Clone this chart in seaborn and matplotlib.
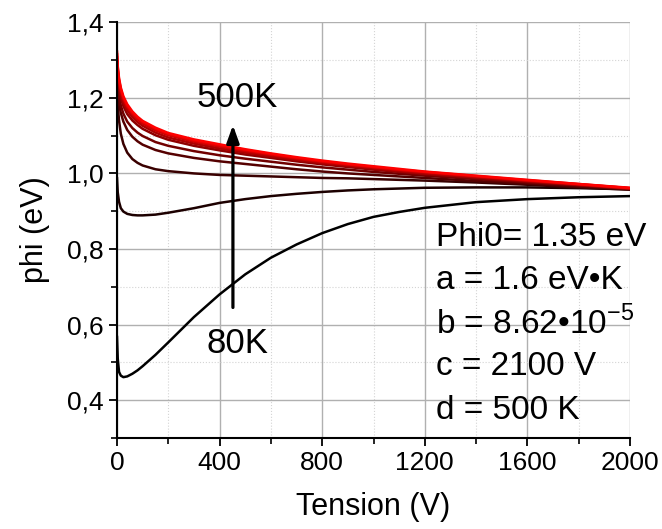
import pandas as pd
import matplotlib
matplotlib.use("Agg")
import matplotlib.pyplot as plt
from matplotlib.ticker import MultipleLocator, FuncFormatter
import seaborn as sns

# Tension grid (V) and phi (eV), one curve per temperature
tension = [0, 3, 8, 15, 25, 40, 60, 80, 100, 150, 200, 300, 400, 500, 600, 700, 800, 900, 1000, 1100, 1200, 1400, 1600, 1800, 2000]
temps = ["80K", "120K", "160K", "200K", "250K", "300K", "350K", "400K", "450K", "500K"]

phi_80 = [0.57, 0.51, 0.475, 0.465, 0.461, 0.463, 0.47, 0.479, 0.49, 0.52, 0.553, 0.62, 0.68, 0.733, 0.777, 0.812, 0.842, 0.866, 0.885, 0.898, 0.909, 0.924, 0.932, 0.937, 0.94]
phi_120 = [0.99, 0.95, 0.925, 0.908, 0.899, 0.893, 0.89, 0.889, 0.889, 0.891, 0.896, 0.908, 0.922, 0.932, 0.94, 0.946, 0.951, 0.955, 0.958, 0.960, 0.962, 0.963, 0.963, 0.961, 0.958]
phi_160 = [1.22, 1.18, 1.14, 1.105, 1.078, 1.055, 1.038, 1.028, 1.021, 1.011, 1.006, 1.0, 0.996, 0.994, 0.992, 0.99, 0.988, 0.987, 0.985, 0.983, 0.981, 0.976, 0.97, 0.963, 0.957]
phi_200 = [1.25, 1.215, 1.185, 1.16, 1.137, 1.115, 1.097, 1.085, 1.076, 1.062, 1.053, 1.041, 1.032, 1.025, 1.018, 1.011, 1.005, 1.0, 0.996, 0.992, 0.988, 0.98, 0.973, 0.965, 0.958]
phi_250 = [1.27, 1.235, 1.205, 1.18, 1.158, 1.137, 1.12, 1.108, 1.099, 1.083, 1.073, 1.059, 1.048, 1.039, 1.031, 1.023, 1.016, 1.01, 1.004, 0.999, 0.994, 0.985, 0.976, 0.968, 0.959]
phi_300 = [1.29, 1.255, 1.225, 1.2, 1.178, 1.157, 1.14, 1.128, 1.118, 1.101, 1.089, 1.073, 1.061, 1.05, 1.041, 1.032, 1.024, 1.017, 1.01, 1.004, 0.998, 0.988, 0.978, 0.969, 0.96]
phi_350 = [1.30, 1.265, 1.235, 1.21, 1.188, 1.167, 1.149, 1.136, 1.126, 1.108, 1.095, 1.079, 1.066, 1.055, 1.045, 1.036, 1.027, 1.02, 1.013, 1.006, 1.0, 0.99, 0.98, 0.97, 0.96]
phi_400 = [1.31, 1.273, 1.243, 1.218, 1.196, 1.175, 1.156, 1.143, 1.132, 1.114, 1.101, 1.084, 1.071, 1.059, 1.049, 1.039, 1.03, 1.023, 1.016, 1.009, 1.003, 0.992, 0.981, 0.971, 0.961]
phi_450 = [1.318, 1.279, 1.248, 1.223, 1.2, 1.179, 1.16, 1.147, 1.136, 1.118, 1.104, 1.087, 1.074, 1.062, 1.051, 1.041, 1.032, 1.024, 1.017, 1.01, 1.004, 0.993, 0.982, 0.972, 0.961]
phi_500 = [1.325, 1.284, 1.252, 1.227, 1.204, 1.183, 1.164, 1.15, 1.139, 1.121, 1.107, 1.09, 1.077, 1.064, 1.053, 1.043, 1.034, 1.026, 1.019, 1.012, 1.005, 0.994, 0.983, 0.972, 0.962]

curves = [phi_80, phi_120, phi_160, phi_200, phi_250, phi_300, phi_350, phi_400, phi_450, phi_500]

df = pd.concat(
    [pd.DataFrame({"V": tension, "phi": vals, "T": t}) for t, vals in zip(temps, curves)],
    ignore_index=True,
)

# black -> red gradient
palette = [(i / (len(temps) - 1), 0, 0) for i in range(len(temps))]

sns.set_style("white")
plt.rcParams["font.family"] = ["Liberation Sans", "DejaVu Sans"]
plt.rcParams["mathtext.fontset"] = "custom"
plt.rcParams["mathtext.rm"] = "Liberation Sans"
plt.rcParams["text.color"] = "black"
plt.rcParams["axes.labelcolor"] = "black"
plt.rcParams["xtick.color"] = "black"
plt.rcParams["ytick.color"] = "black"

fig = plt.figure(figsize=(6.62, 5.29), dpi=100)
ax = fig.add_axes([0.1767, 0.172, 0.775, 0.786])

sns.lineplot(data=df, x="V", y="phi", hue="T", palette=palette, estimator=None,
             legend=False, linewidth=1.8, ax=ax)

ax.set_xlim(0, 2000)
ax.set_ylim(0.3, 1.4)
ax.xaxis.set_major_locator(MultipleLocator(400))
ax.xaxis.set_minor_locator(MultipleLocator(200))
ax.yaxis.set_major_locator(MultipleLocator(0.2))
ax.yaxis.set_minor_locator(MultipleLocator(0.1))
ax.yaxis.set_major_formatter(FuncFormatter(lambda v, p: f"{v:.1f}".replace(".", ",")))

ax.grid(which="major", color="#b0b0b0", lw=1, ls="-")
ax.grid(which="minor", color="#d4d4d4", lw=0.8, ls=":")
ax.set_axisbelow(True)

for s in ["top", "right"]:
    ax.spines[s].set_visible(False)
for s in ["left", "bottom"]:
    ax.spines[s].set_color("black")
    ax.spines[s].set_linewidth(1.5)

ax.tick_params(which="major", direction="out", length=6, width=1.3, labelsize=19,
               left=True, bottom=True, colors="black")
ax.tick_params(which="minor", direction="out", length=4, width=1.2, left=True, bottom=True,
               colors="black")

ax.set_xlabel("Tension (V)", fontsize=22, labelpad=12)
ax.set_ylabel("phi (eV)", fontsize=22, labelpad=12)

# temperature arrow
ax.annotate("", xy=(452, 1.135), xytext=(452, 0.638),
            arrowprops=dict(arrowstyle="-|>,head_length=0.75,head_width=0.27",
                            lw=2.3, color="black", mutation_scale=14))
ax.text(470, 1.2, "500K", fontsize=25, ha="center", va="center")
ax.text(470, 0.55, "80K", fontsize=25, ha="center", va="center")

params = ["Phi0= 1.35 eV", "a = 1.6 eV\u2022K", "b = 8.62\u202210$^{\\mathregular{-5}}$",
          "c = 2100 V", "d = 500 K"]
for i, txt in enumerate(params):
    ax.text(1245, 0.83 - i * 0.114, txt, fontsize=24, ha="left", va="center")

fig.savefig("out.png", dpi=100)
